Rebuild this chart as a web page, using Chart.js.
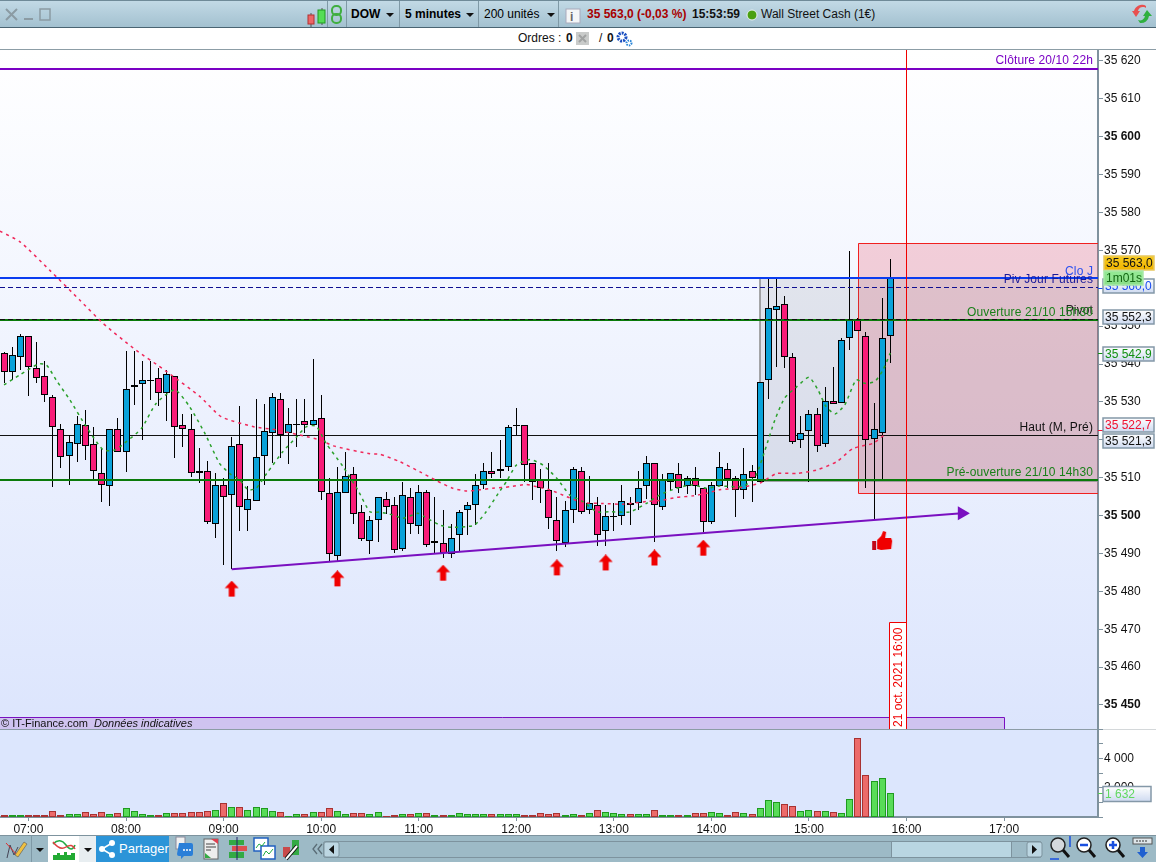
<!DOCTYPE html>
<html lang="fr">
<head>
<meta charset="UTF-8" />
<title>DOW 5 minutes</title>
<script src="https://cdn.jsdelivr.net/npm/chart.js"></script>
<style>
  html, body { margin: 0; padding: 0; background: #fff; overflow: hidden; }
  body { width: 1156px; height: 862px; position: relative; font-family: "Liberation Sans", Arial, sans-serif; }
  svg, canvas { position: absolute; left: 0; display: block; }
  svg text { font-family: "Liberation Sans", Arial, sans-serif; font-size: 12px; }
  #topbar { top: 0; }
  #bottombar { top: 835px; }
  #mainChart { top: 50px; }
  #volChart { top: 729px; }
</style>
</head>
<body>

<svg id="topbar" width="1156" height="50">
  <defs>
    <linearGradient id="barGrad" x1="0" y1="0" x2="0" y2="1">
      <stop offset="0" stop-color="#c3dae6"/><stop offset="1" stop-color="#a3c1d0"/>
    </linearGradient>
  </defs>
  <rect width="1156" height="27" fill="url(#barGrad)"/>
  <rect width="1156" height="1" fill="#6f8a98"/>
  <rect y="27" width="1156" height="1" fill="#4a6472"/>
  <rect y="49" width="1156" height="1" fill="#8c9da6"/>
  <path d="M6 9 L17 20 M17 9 L6 20" stroke="#8b9ba3" stroke-width="2"/>
  <rect x="24" y="18" width="9" height="2" fill="#8b9ba3"/>
  <rect x="40" y="9" width="10" height="11" fill="none" stroke="#8b9ba3" stroke-width="1.5"/>
  <path d="M311 13V27 M322 8V25" stroke="#555" />
  <rect x="308" y="15" width="6" height="9" fill="#ee6666" stroke="#b03030"/>
  <rect x="318" y="10" width="7" height="13" fill="#55dd55" stroke="#1f9a1f"/>
  <path d="M327.5 1V27 M346.5 1V27 M399.5 1V27 M478.5 1V27 M558.5 1V27" stroke="#7f99a6"/>
  <rect x="332" y="6" width="9" height="9" rx="4" fill="none" stroke="#3fae3f" stroke-width="2"/>
  <rect x="332" y="14" width="9" height="9" rx="4" fill="none" stroke="#3fae3f" stroke-width="2"/>
  <text x="351" y="18" font-weight="bold">DOW</text>
  <path d="M386 13h8l-4 4z" fill="#111"/>
  <text x="405" y="18" font-weight="bold">5 minutes</text>
  <path d="M466 13h8l-4 4z" fill="#111"/>
  <text x="484" y="18">200 unités</text>
  <path d="M547 13h8l-4 4z" fill="#111"/>
  <rect x="566" y="9" width="14" height="14" fill="#f4f6f7" stroke="#aab"/>
  <text x="570" y="21" fill="#666" style="font-size:12px;font-weight:bold">i</text>
  <text x="587" y="18" fill="#a80000" font-weight="bold">35 563,0 (-0,03 %)</text>
  <text x="692" y="18" fill="#111" font-weight="bold">15:53:59</text>
  <circle cx="752" cy="15" r="5" fill="#4aa010" stroke="#e8f2f2" stroke-width="1"/>
  <text x="761" y="18" fill="#111">Wall Street Cash (1€)</text>
  <path d="M1146 6 a8 8 0 0 0 -12 5 l-2 0 l4 6 l4 -6 l-2 0 a5 5 0 0 1 8 -3z" fill="#e85050"/>
  <path d="M1140 23 a8 8 0 0 0 9 -7 l3 0 l-5 -6 l-4 6 l2 0 a5 5 0 0 1 -7 4z" fill="#30b040"/>
  <text x="518" y="42" fill="#111">Ordres :</text>
  <text x="566" y="42" fill="#111" font-weight="bold">0</text>
  <rect x="576" y="32" width="13" height="13" fill="#c9cbca"/>
  <path d="M579 35l7 7M586 35l-7 7" stroke="#a0a2a2" stroke-width="2"/>
  <text x="599" y="42" fill="#111">/</text>
  <text x="607" y="42" fill="#111" font-weight="bold">0</text>
  <circle cx="622" cy="37" r="4" fill="none" stroke="#1a4fc0" stroke-width="3" stroke-dasharray="2 1"/>
  <circle cx="629" cy="43" r="2.5" fill="none" stroke="#2a86d8" stroke-width="2" stroke-dasharray="1.5 1"/>
</svg>

<canvas id="mainChart" width="1156" height="679"></canvas>
<canvas id="volChart" width="1156" height="106"></canvas>

<svg id="bottombar" width="1156" height="27">
  <rect width="1156" height="27" fill="#9dbac6"/>
  <rect width="1156" height="1" fill="#7d939e"/>
  <path d="M7 23 L10 10 L14 20 L18 12" fill="none" stroke="#445" />
  <path d="M6 8 L18 21" stroke="#e03030"/>
  <path d="M15 20 L24 7 L27 9 L18 22z" fill="#f0c040" stroke="#555" stroke-width=".6"/>
  <path d="M31.5 0V27" stroke="#7f99a6"/>
  <path d="M36 13h8l-4 4z" fill="#111"/>
  <rect x="48" y="1" width="31" height="26" fill="#fff"/>
  <rect x="79" y="1" width="17" height="26" fill="#e8eef1"/>
  <path d="M53 9 Q60 2 66 10 T75 10" fill="none" stroke="#22aa44" stroke-width="1.5"/>
  <path d="M53 7 Q60 16 66 12 T75 14" fill="none" stroke="#e04040" stroke-width="1.5"/>
  <path d="M53 25V20h4v-2h3v2h4v-3h3v3h4v-2h4v7z" fill="#22aa33"/>
  <path d="M84 13h8l-4 4z" fill="#111"/>
  <rect x="96" y="1" width="73" height="26" fill="#2b94d8"/>
  <circle cx="102" cy="14" r="3" fill="#fff"/><circle cx="112" cy="8" r="3" fill="#fff"/><circle cx="112" cy="20" r="3" fill="#fff"/>
  <path d="M102 14L112 8M102 14L112 20" stroke="#fff" stroke-width="1.5"/>
  <text x="119" y="18" fill="#fff" style="font-size:13px">Partager</text>
  <rect x="176" y="2" width="9" height="12" fill="#f0f0f0" stroke="#889"/>
  <path d="M180 9h12a2 2 0 0 1 2 2v9a2 2 0 0 1-2 2h-7l-3 3v-3h-2a2 2 0 0 1-2-2z" fill="#2a7fd8" transform="translate(-1 -1)"/>
  <path d="M183 15h2m1 0h2m1 0h2" stroke="#fff" stroke-width="1.5"/>
  <rect x="204" y="4" width="14" height="20" fill="#eee" stroke="#666"/>
  <path d="M206 9h9M206 12h10M206 15h5" stroke="#444"/>
  <path d="M205 23v-5l6 5z" fill="#33aa44"/><path d="M211 4h7v5z" fill="#e04050"/>
  <rect x="229" y="5" width="15" height="5" fill="#33aa44"/><rect x="232" y="11" width="15" height="5" fill="#dd5050"/><rect x="229" y="17" width="15" height="6" fill="#33aa44"/><path d="M237 2v23" stroke="#226"/>
  <rect x="254" y="3" width="14" height="13" fill="#fff" stroke="#2060c0" stroke-width="1.5"/>
  <rect x="261" y="11" width="14" height="13" fill="#fff" stroke="#2060c0" stroke-width="1.5"/>
  <path d="M263 21l3-5 3 3 4-5" stroke="#22aa44" fill="none"/>
  <path d="M256 13l3-4 3 2 3-4" stroke="#22aa44" fill="none"/>
  <rect x="283" y="12" width="7" height="10" fill="#c94a4a"/><rect x="292" y="5" width="7" height="15" fill="#33aa44"/>
  <path d="M286 24L297 11" stroke="#111" stroke-width="4"/><path d="M286 24L297 11" stroke="#fff" stroke-width="2"/>
  <path d="M317 9l-4 5 4 5M322 9l-4 5 4 5" fill="none" stroke="#5a6c76" stroke-width="1.3"/>
  <rect x="323.5" y="6.5" width="718" height="16" rx="2" fill="#9dbac6" stroke="#7d939e"/>
  <rect x="324" y="7" width="15" height="15" rx="2" fill="#bcd6e2" stroke="#7d939e"/>
  <path d="M334 10v9l-5-4.500z" fill="#111"/>
  <rect x="891" y="7" width="120" height="15" fill="#b9d6e2"/>
  <path d="M891.500 7v15M1011.500 7v15" stroke="#7d939e"/>
  <rect x="1027" y="7" width="15" height="15" rx="2" fill="#bcd6e2" stroke="#7d939e"/>
  <path d="M1032 10v9l5-4.500z" fill="#111"/>
  <circle cx="1058" cy="10" r="7" fill="#d4d8dc" stroke="#222" stroke-width="1.5"/>
  <path d="M1063 15l6 7" stroke="#111" stroke-width="3"/>
  <path d="M1070 1v11M1050 24h9" stroke="#1a50e0" stroke-width="1.500"/>
  <circle cx="1084" cy="10" r="7" fill="#fff" stroke="#222" stroke-width="1.5"/>
  <path d="M1080 10h8" stroke="#1a50e0" stroke-width="2.500"/>
  <path d="M1089 15l6 7" stroke="#111" stroke-width="3"/>
  <circle cx="1113" cy="10" r="7" fill="#fff" stroke="#222" stroke-width="1.5"/>
  <path d="M1109 10h8M1113 6v8" stroke="#1a50e0" stroke-width="2.500"/>
  <path d="M1118 15l6 7" stroke="#111" stroke-width="3"/>
  <rect x="1133" y="3" width="19" height="6" fill="#dfe6ea" stroke="#555"/>
  <path d="M1136 6h2m1 0h2m1 0h2m1 0h2" stroke="#333"/>
  <path d="M1140 12h5v5h3l-5.500 6-5.500-6h3z" fill="#2060d0"/>
</svg>

<script>
// prix, bougies de 5 minutes a partir de 06:45
const openP = [
  35542.8,35537.8,35541.8,35547.3,35538.9,35536.8,35531.2,35522.8,35515.6,35518.8,
  35523.8,35518.8,35511.2,35507.7,35522.8,35516.7,35533.9,35534.6,35535.7,35536.2,
  35532.3,35536.8,35523.8,35522.8,35511.7,35511.7,35497.7,35508.2,35505.3,35518.8,
  35501.6,35503.8,35515.6,35521.7,35530.7,35521.7,35523.8,35524.9,35523.8,35525.7,
  35505.9,35489.2,35505.9,35510.9,35500.9,35493.2,35498.7,35504.3,35502.7,35491.3,
  35504.8,35497.2,35506.1,35492.7,35492.7,35489.8,35494.8,35501.4,35502.7,35508.2,
  35511.7,35511.7,35512.7,35523.8,35523.8,35513.8,35509.3,35506.7,35498.7,35492.7,
  35501.6,35511.7,35501.4,35502.7,35495.8,35499.8,35499.8,35503.2,35503.2,35507.7,
  35513.8,35502.2,35508.8,35510.9,35507.7,35509.8,35507.2,35498.2,35507.7,35512.2,
  35509.8,35506.7,35511.7,35508.8,35535.7,35554.2,35555.8,35541.8,35519.9,35522.2,
  35526.7,35518.8,35530.2,35529.6,35546.8,35551.6,35547.3,35520.1,35521.7,35547.3];
const closeP = [
  35537.8,35542.3,35547.3,35539.1,35536.2,35531.8,35523.3,35515.4,35519.3,35524.3,
  35518.3,35511.7,35508.2,35522.8,35516.7,35533.3,35534.4,35535.7,35535.7,35532.3,
  35537.3,35523.3,35522.8,35511.2,35511.2,35498.2,35508.2,35504.8,35518.3,35502.2,
  35504.3,35515.4,35522.2,35531.2,35521.2,35524.3,35524.3,35523.8,35525.1,35506.1,
  35489.8,35506.1,35510.4,35500.3,35493.7,35498.7,35504.8,35502.2,35490.8,35505.3,
  35497.7,35506.1,35492.1,35493.2,35490.0,35494.2,35500.9,35502.7,35508.2,35511.7,
  35510.9,35512.2,35523.3,35523.8,35513.3,35508.8,35507.2,35499.3,35493.2,35501.4,
  35512.2,35500.9,35503.2,35494.8,35499.8,35499.8,35503.8,35502.7,35507.2,35513.8,
  35502.7,35509.3,35511.2,35507.2,35509.8,35507.7,35498.2,35508.2,35512.7,35509.6,
  35506.7,35510.9,35509.8,35535.2,35554.7,35555.2,35541.8,35519.3,35521.7,35526.7,
  35518.3,35530.2,35529.4,35546.3,35551.6,35548.6,35519.9,35522.8,35546.8,35562.6];
const highP = [
  35543.3,35544.6,35547.9,35547.3,35545.7,35540.7,35531.8,35524.3,35521.2,35526.3,
  35527.9,35523.3,35517.8,35522.8,35525.7,35543.4,35543.4,35540.7,35540.7,35538.9,
  35538.4,35536.8,35526.8,35526.7,35517.8,35514.3,35511.2,35509.8,35520.7,35528.8,
  35507.7,35530.7,35529.4,35532.3,35532.3,35528.3,35530.7,35530.7,35541.2,35531.8,
  35509.8,35512.7,35516.7,35512.7,35502.7,35499.8,35504.8,35506.1,35504.8,35508.8,
  35507.2,35508.2,35506.7,35504.8,35501.4,35497.7,35501.4,35503.5,35510.9,35513.8,
  35516.7,35520.0,35523.8,35528.3,35523.8,35513.8,35512.2,35513.8,35504.8,35503.8,
  35512.7,35512.7,35510.4,35504.8,35502.7,35503.2,35508.2,35504.8,35511.7,35515.6,
  35513.8,35510.9,35511.2,35513.8,35510.4,35512.7,35507.2,35508.8,35516.7,35513.8,
  35510.4,35517.8,35513.3,35535.2,35562.4,35562.6,35557.9,35542.8,35526.2,35527.8,
  35528.3,35533.9,35539.1,35546.8,35569.8,35552.1,35548.4,35529.6,35557.4,35567.6];
const lowP = [
  35534.9,35535.8,35538.3,35531.6,35535.1,35530.1,35507.6,35512.6,35508.2,35514.2,
  35514.8,35509.6,35503.7,35502.6,35516.7,35511.6,35529.3,35520.0,35530.6,35528.8,
  35525.0,35515.3,35518.2,35510.3,35508.7,35497.7,35494.2,35487.0,35485.8,35495.8,
  35495.8,35503.8,35508.2,35513.8,35515.3,35513.7,35518.1,35521.7,35523.8,35504.2,
  35488.0,35487.7,35505.9,35497.7,35493.2,35489.8,35493.1,35500.3,35490.0,35490.7,
  35495.2,35495.2,35491.8,35490.0,35488.7,35488.7,35490.6,35494.8,35497.4,35506.9,
  35509.8,35509.8,35511.7,35521.2,35508.8,35504.1,35503.2,35496.4,35490.7,35491.8,
  35498.0,35500.3,35500.3,35491.9,35491.9,35495.8,35497.6,35497.6,35501.6,35504.5,
  35493.1,35501.6,35506.7,35505.9,35505.6,35505.3,35495.6,35497.7,35507.7,35507.2,
  35499.7,35504.5,35503.7,35508.8,35530.7,35539.1,35538.9,35518.8,35517.8,35508.8,
  35516.7,35518.2,35529.4,35529.6,35543.8,35548.6,35507.2,35499.0,35509.0,35540.2];
const volumes = [
  136,136,136,136,136,136,409,136,205,205,341,205,341,205,273,614,409,205,136,136,
  273,273,273,341,341,409,477,955,682,682,477,682,614,409,341,68,205,205,341,341,
  614,409,205,273,273,205,341,68,136,205,205,273,273,136,136,136,273,205,205,205,
  205,205,205,205,136,136,273,205,273,136,205,136,273,477,341,273,205,205,205,205,
  477,136,136,136,136,273,273,341,273,136,341,273,205,614,1159,1023,886,750,409,477,
  409,409,341,273,1227,5386,2864,2455,2659,1632];

// moyennes mobiles (position en bougies, prix)
const fastIdx = [0,1.9,4.2,5.2,6.4,8.1,10.1,12.2,13.6,14.8,16.9,18.7,21,22.8,24.7,26.5,27.8,29,30,31,32.3,34.3,36,37.2,38.4,39.6,41.7,43.5,45,46.2,47.8,49.1,50.9,51.7,53.6,55,56.9,57.9,59.3,60.8,61.8,63,64.7,66.3,68,69.6,71.2,72.9,74.5,77,79,80.6,82.7,84.7,86.4,88,90.1,91.2,92.5,93.6,94.8,96,97.5,99,100.1,101.1,102.2,103.4,104.8,105.9,107.1,108.1,109];
const fastMa = [35534.5,35537.1,35540,35539.8,35535.8,35530.5,35523.5,35517.3,35517.3,35519.1,35523,35529.6,35533.2,35528.8,35521.7,35513.8,35511,35509.4,35506.8,35507.2,35511.1,35516.9,35520.8,35523.5,35523.6,35519.1,35512.9,35506.8,35501,35500.9,35500.2,35499.3,35500.6,35499.7,35497.5,35496.9,35497.1,35497.5,35501,35505.9,35509,35513.3,35514.8,35513.3,35509.8,35505.4,35503.7,35501,35501,35501,35503.2,35505.4,35507.2,35508.1,35507.2,35507.8,35507.6,35508,35510.7,35517.3,35525.2,35531,35534,35536.5,35533.2,35528.8,35526.8,35529.2,35535.8,35534.9,35535.4,35538.4,35542.9];
const slowIdx = [-0.5,2,5.6,9.3,12.2,15.9,20,24.1,26.7,30.6,33.5,38.8,40.5,45,46.2,48.7,51.1,53.2,55.2,56.9,58.5,60.1,62.2,64.2,65.5,67.1,69.2,71.2,73.7,76.1,79,81.1,82.7,84.7,86.4,88,90.1,93,95,97.5,99.9,102.4,104.4,106.9,108.5];
const slowMa = [35575.1,35572.2,35564.8,35556.9,35550.7,35544.2,35538,35531.4,35526.1,35523.5,35522.6,35520,35518.4,35516.3,35516.2,35514.2,35511.6,35509.2,35507.2,35506.5,35506.8,35507.2,35507.6,35508.2,35507.6,35506.8,35505,35503.4,35503.2,35503,35503.7,35504.1,35504.8,35505.2,35505.9,35506.8,35507.2,35508.6,35511.1,35511.1,35512,35514.2,35517.7,35519.1,35521.7];

// niveaux horizontaux
const levelPrices = [35618.0,35562.8,35560.4,35552.0,35551.5,35521.3,35509.4];
const levelNames = ['Clôture 20/10 22h','Clo J','Piv Jour Futures','Pivot','Ouverture 21/10 15h30','Haut (M, Pré)','Pré-ouverture 21/10 14h30'];
const levelColors = ['#7a00c4','#0a3cf0','#101090','#111111','#0a7a0a','#111111','#0a7a0a'];
const labelColors = ['#7a00c4','#2a50f0','#1a1a9a','#222222','#1a801a','#111111','#1a801a'];
const levelWidths = [2,2,1,1,2,1,2];

// zones : pre-ouverture et ouverture
const grayBox = { from: 93, top: 35562.8, bottom: 35509.0 };
const redBox = { from: 105, top: 35571.9, bottom: 35505.9 };

const trendIdx = [28,117.8];
const trendPrices = [35485.8,35500.6];
const upArrowIdx = [28,41,54,68,74,80,86];
const upArrowPrices = [35480.6,35483.3,35484.8,35486.2,35487.5,35488.8,35491.4];
const thumbIdx = [108];
const thumbPrices = [35493.3];
const cursorIdx = 111;

const hourIdx = [3,15,27,39,51,63,75,87,99,111,123];
const hourLabels = ['07:00','08:00','09:00','10:00','11:00','12:00','13:00','14:00','15:00','16:00','17:00'];
const boldTicks = [35600,35500,35450];
const volLabels = [2000,4000];

// etiquettes de droite
const tagPrices = [35560.0,35552.3,35542.9,35522.7,35521.3,35563.0];
const tagColors = ['#1a4cf0','#111111','#119011','#f01030','#111111','#111111'];
const tagShift = [-2,0,1,-5,6,-14];
const countdown = '1m01s';
const lastVolume = 1632;

const xMin = -0.5, xMax = 134.55;
const yMax = 35622.9, yMin = 35443.66;

Chart.defaults.font.family = '"Liberation Sans", Arial, sans-serif';
Chart.defaults.font.size = 12;
Chart.defaults.color = '#111';

const isUp = openP.map((o, i) => closeP[i] >= o);
const priceTxt = v => String(Math.round(v)).replace(/(\d\d)(\d{3})/, '$1 $2');
const tagTxt = v => v.toFixed(1).replace('.', ',').replace(/(\d\d)(\d{3})/, '$1 $2');
const volTxt = v => String(v).replace(/(\d)(\d{3})$/, '$1 $2');

function makeArrow() {
  const c = document.createElement('canvas');
  c.width = 15; c.height = 17;
  const g = c.getContext('2d');
  g.fillStyle = '#f00000';
  g.beginPath();
  g.moveTo(7.5, 0); g.lineTo(14.5, 7.5); g.lineTo(10.5, 7.5); g.lineTo(10.5, 16);
  g.lineTo(4.5, 16); g.lineTo(4.5, 7.5); g.lineTo(0.5, 7.5);
  g.closePath(); g.fill();
  return c;
}

function makeThumb() {
  const c = document.createElement('canvas');
  c.width = 22; c.height = 22;
  const g = c.getContext('2d');
  g.fillStyle = '#c00818';
  g.fillRect(1, 11, 4, 9);
  g.fillStyle = '#f00000';
  g.beginPath();
  g.moveTo(6, 10); g.lineTo(10, 6); g.lineTo(12, 1); g.lineTo(15, 2); g.lineTo(14, 8);
  g.lineTo(20, 8); g.lineTo(21, 11); g.lineTo(20, 19); g.lineTo(10, 20); g.lineTo(6, 19);
  g.closePath(); g.fill();
  return c;
}

// aligne les barres sur les pixels
const snapPlugin = {
  id: 'snap',
  afterDatasetsUpdate(chart) {
    chart.data.datasets.forEach((ds, n) => {
      const meta = chart.getDatasetMeta(n);
      if (meta.type === 'bar') {
        meta.data.forEach(el => {
          el.x = Math.round(el.x - 0.5) + 0.5;
          el.y = Math.round(el.y);
          el.base = Math.round(el.base);
          if (el.base === el.y) el.base = el.y + 1;
        });
      } else if (ds.flat) {
        meta.data.forEach(el => { el.y = Math.round(el.y) + (ds.borderWidth % 2 ? 0.5 : 0); });
      } else if (ds.vert) {
        meta.data.forEach(el => { el.x = Math.floor(el.x) + 0.5; });
      }
    });
  }
};

function drawTag(ctx, x, y, w, h, text, color, top, bottom, border) {
  const grad = ctx.createLinearGradient(0, y - h / 2, 0, y + h / 2);
  grad.addColorStop(0, top);
  grad.addColorStop(1, bottom);
  ctx.fillStyle = grad;
  ctx.fillRect(x, y - h / 2, w, h);
  ctx.strokeStyle = border;
  ctx.lineWidth = 1.5;
  ctx.strokeRect(x, y - h / 2, w, h);
  ctx.fillStyle = color;
  ctx.textAlign = 'left';
  ctx.textBaseline = 'middle';
  ctx.font = '12px "Liberation Sans"';
  ctx.fillText(text, x + 2, y + 0.5);
}

const mainDecor = {
  id: 'mainDecor',
  beforeDraw(chart) {
    const { ctx, chartArea: a } = chart;
    const grad = ctx.createLinearGradient(0, a.top, 0, a.bottom);
    grad.addColorStop(0, '#ffffff');
    grad.addColorStop(1, '#dce5fd');
    ctx.fillStyle = grad;
    ctx.fillRect(a.left, a.top, a.width, a.height);
  },
  beforeDatasetsDraw(chart) {
    const { ctx, chartArea: a, scales: { x, y } } = chart;
    ctx.save();
    // zone rouge puis zone grise
    let left = Math.round(x.getPixelForValue(redBox.from));
    let t = Math.round(y.getPixelForValue(redBox.top));
    let b = Math.round(y.getPixelForValue(redBox.bottom));
    ctx.fillStyle = 'rgba(232,60,80,0.22)';
    ctx.fillRect(left, t, a.right - left, b - t);
    ctx.strokeStyle = '#f02020';
    ctx.lineWidth = 1;
    ctx.beginPath();
    ctx.moveTo(a.right, t + 0.5); ctx.lineTo(left + 0.5, t + 0.5); ctx.lineTo(left + 0.5, b + 0.5); ctx.lineTo(a.right, b + 0.5);
    ctx.stroke();
    left = Math.round(x.getPixelForValue(grayBox.from));
    t = Math.round(y.getPixelForValue(grayBox.top));
    b = Math.round(y.getPixelForValue(grayBox.bottom));
    ctx.fillStyle = 'rgba(95,95,110,0.12)';
    ctx.fillRect(left, t, a.right - left, b - t);
    ctx.strokeStyle = '#8a8a8a';
    ctx.lineWidth = 1.5;
    ctx.beginPath();
    ctx.moveTo(a.right, t); ctx.lineTo(left, t); ctx.lineTo(left, b); ctx.lineTo(a.right, b);
    ctx.stroke();
    ctx.restore();
  },
  afterDatasetsDraw(chart) {
    const { ctx, chartArea: a, scales: { x, y } } = chart;
    ctx.save();
    ctx.font = '12px "Liberation Sans"';
    ctx.letterSpacing = '0.12px';
    ctx.textAlign = 'right';
    ctx.textBaseline = 'middle';
    levelNames.forEach((name, i) => {
      ctx.fillStyle = labelColors[i];
      let py = y.getPixelForValue(levelPrices[i]) - 7.5;
      if (name === 'Clo J') py += 1.5;
      ctx.fillText(name, a.right - 5, py);
    });
    ctx.letterSpacing = '0px';
    // bandeau du bas
    const stripRight = Math.round(x.getPixelForValue(hourIdx[10]));
    ctx.fillStyle = '#cfc3f0';
    ctx.fillRect(0, a.bottom - 11, stripRight, 11);
    ctx.strokeStyle = '#7a10c0';
    ctx.lineWidth = 1;
    ctx.beginPath();
    ctx.moveTo(0, a.bottom - 11.5); ctx.lineTo(stripRight + 0.5, a.bottom - 11.5); ctx.lineTo(stripRight + 0.5, a.bottom);
    ctx.stroke();
    ctx.fillStyle = '#111';
    ctx.textAlign = 'left';
    ctx.font = '11px "Liberation Sans"';
    ctx.fillText('© IT-Finance.com', 1, a.bottom - 5.5);
    ctx.font = 'italic 11px "Liberation Sans"';
    ctx.fillText('Données indicatives', 94, a.bottom - 5.5);
    // date sur le curseur
    const cx = Math.floor(x.getPixelForValue(cursorIdx));
    ctx.fillStyle = '#fff';
    ctx.fillRect(cx - 17, a.bottom - 107, 17, 107);
    ctx.strokeStyle = '#f00000';
    ctx.beginPath();
    ctx.moveTo(cx - 16.5, a.bottom); ctx.lineTo(cx - 16.5, a.bottom - 106.5); ctx.lineTo(cx + 0.5, a.bottom - 106.5); ctx.lineTo(cx + 0.5, a.bottom);
    ctx.stroke();
    ctx.translate(cx - 8, a.bottom - 2);
    ctx.rotate(-Math.PI / 2);
    ctx.fillStyle = '#f00000';
    ctx.font = '12px "Liberation Sans"';
    ctx.fillText('21 oct. 2021 16:00', 0, 0.5);
    ctx.restore();
  },
  afterDraw(chart) {
    const { ctx, chartArea: a, scales: { y } } = chart;
    ctx.save();
    tagPrices.forEach((p, i) => {
      const py = Math.round(y.getPixelForValue(p)) + tagShift[i];
      if (tagColors[i] !== '#111111' ) {
        ctx.fillStyle = tagColors[i];
        ctx.fillRect(a.right, Math.round(y.getPixelForValue(p)), 6, 1);
      }
      if (i === tagPrices.length - 1) {
        drawTag(ctx, a.right + 6, py, 50, 14, tagTxt(p), '#111', '#f8cc20', '#f0b400', '#e8c860');
        drawTag(ctx, a.right + 6, py + 15, 39, 14, countdown, '#116611', '#95ea95', '#8adf8a', '#a8e8a8');
      } else {
        drawTag(ctx, a.right + 5, py, 51, 14, tagTxt(p), tagColors[i], '#ffffff', '#cedaf0', '#8498a8');
      }
    });
    ctx.restore();
  }
};

const levelSets = levelPrices.map((p, i) => ({
  type: 'line',
  data: [{ x: xMin, y: p }, { x: xMax, y: p }],
  borderColor: levelColors[i],
  borderWidth: levelWidths[i],
  borderDash: levelWidths[i] === 1 && i !== 5 ? [5, 3] : [],
  pointRadius: 0,
  flat: true,
  order: i === 5 ? 50 : 20
}));

new Chart(document.getElementById('mainChart'), {
  type: 'bar',
  data: {
    datasets: [
      ...levelSets,
      {
        label: 'mèches',
        data: lowP.map((l, i) => ({ x: i, y: [l, highP[i]] })),
        backgroundColor: '#000',
        barThickness: 1,
        grouped: false,
        inflateAmount: 0,
        order: 40
      },
      {
        label: 'bougies',
        data: openP.map((o, i) => ({ x: i, y: [o, closeP[i]] })),
        backgroundColor: isUp.map(u => u ? '#0aa2d9' : '#f81c78'),
        borderColor: '#000',
        borderWidth: 1,
        borderSkipped: false,
        barThickness: 7,
        grouped: false,
        inflateAmount: 0,
        order: 30
      },
      {
        type: 'line',
        label: 'MM lente',
        data: slowIdx.map((v, i) => ({ x: v, y: slowMa[i] })),
        borderColor: '#f0285a',
        borderWidth: 1.5,
        borderDash: [3, 4],
        tension: 0.2,
        pointRadius: 0,
        order: 11
      },
      {
        type: 'line',
        label: 'MM rapide',
        data: fastIdx.map((v, i) => ({ x: v, y: fastMa[i] })),
        borderColor: '#2aa02a',
        borderWidth: 1.5,
        borderDash: [3, 4],
        tension: 0.2,
        pointRadius: 0,
        order: 10
      },
      {
        type: 'line',
        label: 'support',
        data: trendIdx.map((v, i) => ({ x: v, y: trendPrices[i] })),
        borderColor: '#7a10c0',
        backgroundColor: '#7a10c0',
        borderWidth: 2,
        pointStyle: 'triangle',
        pointRotation: 90,
        pointRadius: [0, 6],
        order: 5
      },
      {
        type: 'line',
        label: 'appuis',
        data: upArrowIdx.map((v, i) => ({ x: v, y: upArrowPrices[i] })),
        showLine: false,
        pointStyle: makeArrow(),
        pointRadius: 8,
        order: 4
      },
      {
        type: 'line',
        label: 'pouce',
        data: thumbIdx.map((v, i) => ({ x: v, y: thumbPrices[i] })),
        showLine: false,
        pointStyle: makeThumb(),
        pointRadius: 8,
        order: 4
      },
      {
        type: 'line',
        label: 'curseur',
        data: [{ x: cursorIdx, y: yMax }, { x: cursorIdx, y: yMin }],
        borderColor: '#f00000',
        borderWidth: 1,
        pointRadius: 0,
        vert: true,
        order: 3
      }
    ]
  },
  options: {
    responsive: false,
    animation: false,
    layout: { padding: 0, autoPadding: false },
    plugins: { legend: { display: false }, tooltip: { enabled: false } },
    scales: {
      x: { type: 'linear', display: false, min: xMin, max: xMax, offset: false, grid: { offset: false } },
      y: {
        position: 'right',
        min: yMin,
        max: yMax,
        beginAtZero: false,
        grid: { drawOnChartArea: false, tickLength: 5, color: '#7f929e' },
        border: { color: '#7f929e', width: 2 },
        ticks: {
          stepSize: 10,
          includeBounds: false,
          autoSkip: false,
          padding: 1,
          color: '#111',
          font: c => ({ size: 12, weight: c.tick && boldTicks.includes(c.tick.value) ? 'bold' : 'normal' }),
          callback: v => priceTxt(v)
        },
        afterFit(s) { s.width = 58; s.paddingTop = 0; s.paddingBottom = 0; }
      }
    }
  },
  plugins: [snapPlugin, mainDecor]
});

const volDecor = {
  id: 'volDecor',
  beforeDraw(chart) {
    const { ctx, chartArea: a } = chart;
    ctx.fillStyle = '#dce6fd';
    ctx.fillRect(a.left, a.top, a.width, a.height);
    ctx.fillStyle = '#8c9ca6';
    ctx.fillRect(a.left, 0, a.width, 1);
    ctx.fillStyle = '#d4d8da';
    ctx.fillRect(a.right, 0, 58, 1);
  },
  afterDraw(chart) {
    const { ctx, chartArea: a, scales: { y } } = chart;
    ctx.save();
    ctx.fillStyle = '#111';
    ctx.textAlign = 'left';
    ctx.textBaseline = 'middle';
    ctx.font = '12px "Liberation Sans"';
    volLabels.forEach(v => ctx.fillText(volTxt(v), a.right + 6, y.getPixelForValue(v)));
    const py = Math.round(y.getPixelForValue(lastVolume));
    ctx.fillStyle = '#50d050';
    ctx.fillRect(a.right, py, 5, 1);
    drawTag(ctx, a.right + 5, py + 1, 48, 15, volTxt(lastVolume), '#60d860', '#ffffff', '#cedaf0', '#8498a8');
    ctx.restore();
  }
};

new Chart(document.getElementById('volChart'), {
  type: 'bar',
  data: {
    datasets: [{
      label: 'Volume',
      data: volumes.map((v, i) => ({ x: i, y: v })),
      backgroundColor: isUp.map(u => u ? '#58dc58' : '#ec6a6a'),
      borderColor: isUp.map(u => u ? '#1f9a1f' : '#a83232'),
      borderWidth: 1,
      borderSkipped: false,
      barThickness: 7,
      grouped: false,
      inflateAmount: 0
    }]
  },
  options: {
    responsive: false,
    animation: false,
    layout: { padding: 0, autoPadding: false },
    plugins: { legend: { display: false }, tooltip: { enabled: false } },
    scales: {
      x: {
        type: 'linear',
        min: xMin,
        max: xMax,
        offset: false,
        grid: { offset: false, drawOnChartArea: false, tickLength: 4, color: '#7f929e' },
        border: { color: '#7f929e', width: 2 },
        ticks: {
          autoSkip: false,
          maxRotation: 0,
          padding: 1,
          color: '#111',
          callback: v => hourLabels[hourIdx.indexOf(v)]
        },
        afterBuildTicks(s) { s.ticks = hourIdx.map(v => ({ value: v })); },
        afterFit(s) { s.height = 18; s.paddingLeft = 0; s.paddingRight = 0; }
      },
      y: {
        position: 'right',
        min: 0,
        max: 5999,
        grid: { drawOnChartArea: false, tickLength: 5, color: '#7f929e' },
        border: { color: '#7f929e', width: 2 },
        ticks: {
          stepSize: 1000,
          includeBounds: false,
          autoSkip: false,
          callback: () => ''
        },
        afterFit(s) { s.width = 58; s.paddingTop = 0; s.paddingBottom = 0; }
      }
    }
  },
  plugins: [snapPlugin, volDecor]
});
</script>
</body>
</html>
